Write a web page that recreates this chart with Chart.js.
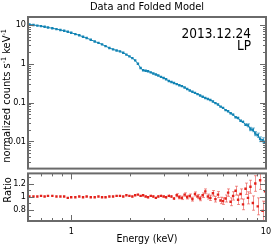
<!DOCTYPE html>
<html>
<head>
<meta charset="utf-8">
<script src="https://cdn.jsdelivr.net/npm/chart.js@4.4.0/dist/chart.umd.min.js"></script>
<style>
body{margin:0;background:#fff;}
#wrap{position:relative;width:273px;height:245px;overflow:hidden;font-family:"DejaVu Sans Condensed","DejaVu Sans",sans-serif;color:#000;}
canvas{position:absolute;left:0;}
#c1{top:0;}
#c2{top:166px;}
.txt{position:absolute;white-space:nowrap;line-height:1;}
.rot{transform:translate(-50%,-50%) rotate(-90deg);}
sup{font-size:65%;vertical-align:0.5em;line-height:0;}
</style>
</head>
<body>
<div id="wrap">
<canvas id="c1" width="273" height="176" style="width:273px;height:176px"></canvas>
<canvas id="c2" width="273" height="79" style="width:273px;height:79px"></canvas>
<div class="txt" id="title" style="left:147px;top:0.5px;font-size:11px;transform:translateX(-50%)">Data and Folded Model</div>
<div class="txt" style="right:22px;top:27px;font-size:13.5px">2013.12.24</div>
<div class="txt" style="right:22px;top:39px;font-size:13.5px">LP</div>
<div class="txt rot" style="left:6px;top:96px;font-size:11px">normalized counts s<sup>-1</sup> keV<sup>-1</sup></div>
<div class="txt rot" style="left:6.5px;top:190px;font-size:11px">Ratio</div>
<div class="txt" style="left:147px;top:233px;font-size:10.5px;transform:translateX(-50%)">Energy (keV)</div>
</div>
<script>
// energies (keV)
var energy = [
  0.61,0.64,0.67,0.70,0.73,0.76,0.80,0.84,0.88,0.92,
  0.96,1.00,1.05,1.10,1.15,1.20,1.26,1.32,1.38,1.44,
  1.50,1.57,1.64,1.71,1.78,1.85,1.92,1.99,2.06,2.13,
  2.20,2.27,2.34,2.41,2.48,2.56,2.64,2.72,2.80,2.89,
  2.98,3.07,3.17,3.27,3.37,3.48,3.59,3.70,3.82,3.94,
  4.06,4.19,4.32,4.45,4.59,4.73,4.88,5.03,5.18,5.34,
  5.50,5.67,5.84,6.02,6.20,6.39,6.58,6.78,6.98,7.19,
  7.40,7.62,7.85,8.08,8.32,8.56,8.81,9.07,9.33,9.60,
  9.88
];
// normalized counts s-1 keV-1
var counts = [
  10.3,10.0,9.6,9.3,9.0,8.6,8.2,7.8,7.4,7.1,
  6.7,6.3,5.8,5.4,4.95,4.6,4.15,3.75,3.45,3.15,
  2.85,2.55,2.35,2.2,2.08,1.92,1.72,1.55,1.40,1.22,
  1.0,0.78,0.68,0.66,0.64,0.60,0.56,0.53,0.50,0.46,
  0.43,0.40,0.36,0.34,0.32,0.30,0.28,0.265,0.245,0.225,
  0.205,0.19,0.178,0.165,0.153,0.142,0.132,0.124,0.117,0.107,
  0.097,0.089,0.079,0.073,0.064,0.060,0.053,0.049,0.042,0.040,
  0.034,0.032,0.027,0.026,0.021,0.020,0.016,0.0145,0.0115,0.0108,
  0.0092
];
// data / model
var ratio = [
  1.00,1.00,1.00,1.01,1.00,1.01,1.01,1.00,1.00,1.00,
  0.98,0.99,0.99,1.00,0.99,1.00,0.99,0.99,1.00,0.99,
  0.99,1.00,1.00,1.01,1.01,1.00,1.02,1.01,1.00,1.02,
  1.03,1.01,1.02,1.00,0.99,1.01,1.00,0.98,1.00,1.01,
  1.00,0.99,1.01,1.00,0.97,1.02,0.99,0.98,1.03,0.99,
  1.01,0.96,1.04,1.00,0.97,1.02,1.08,1.00,0.98,1.05,
  0.96,1.03,0.94,0.93,0.97,1.06,0.92,1.01,1.09,0.95,
  1.04,0.88,1.12,0.98,1.15,0.90,1.20,0.85,1.25,0.78,
  1.08
];
// 1 sigma error on the ratio (same relative error on the counts)
var ratioErr = [
  0.006,0.006,0.006,0.006,0.006,0.006,0.006,0.006,0.006,0.006,
  0.006,0.006,0.006,0.007,0.007,0.007,0.007,0.007,0.008,0.008,
  0.008,0.008,0.009,0.009,0.009,0.010,0.010,0.010,0.011,0.012,
  0.013,0.015,0.016,0.016,0.017,0.017,0.018,0.018,0.019,0.019,
  0.020,0.021,0.022,0.022,0.023,0.024,0.025,0.026,0.027,0.028,
  0.029,0.030,0.031,0.032,0.034,0.035,0.037,0.038,0.040,0.042,
  0.044,0.046,0.049,0.051,0.054,0.057,0.060,0.064,0.068,0.072,
  0.077,0.082,0.087,0.093,0.10,0.11,0.12,0.13,0.14,0.15,
  0.16
];
var countTicks = [0.01, 0.1, 1, 10];
var ratioTicks = [0.8, 1, 1.2];
var energyTicks = [1, 10];

var blu = '#1284b4';
var red = '#e3211a';
var frameCol = '#6a6a6a';
Chart.defaults.font.family = "'DejaVu Sans Condensed','DejaVu Sans',sans-serif";
Chart.defaults.color = '#000';

function logMinors(min, max){
  var out = [];
  for (var d = -4; d <= 2; d++){
    for (var k = 2; k <= 9; k++){
      var v = k * Math.pow(10, d);
      if (v > min && v < max) out.push(v);
    }
  }
  return out;
}

// error bars, frame and inward ticks
var framePlugin = {
  id: 'frame',
  beforeDatasetsDraw: function(chart, args, o){
    var ctx = chart.ctx, xs = chart.scales.x, ys = chart.scales.y, a = chart.chartArea;
    ctx.save();
    ctx.beginPath(); ctx.rect(a.left, a.top, a.right - a.left, a.bottom - a.top); ctx.clip();
    ctx.strokeStyle = o.errColor; ctx.lineWidth = 1;
    for (var i = 0; i < energy.length; i++){
      var v = o.vals[i], e = o.rel ? v * ratioErr[i] : ratioErr[i];
      var x = Math.round(xs.getPixelForValue(energy[i])) + 0.5;
      var y1 = ys.getPixelForValue(v - e), y2 = ys.getPixelForValue(v + e);
      ctx.beginPath();
      ctx.moveTo(x, y1); ctx.lineTo(x, y2);
      if (Math.abs(y1 - y2) > 3){
        ctx.moveTo(x - 1.5, y1); ctx.lineTo(x + 1.5, y1);
        ctx.moveTo(x - 1.5, y2); ctx.lineTo(x + 1.5, y2);
      }
      ctx.stroke();
    }
    ctx.restore();
  },
  afterDraw: function(chart, args, o){
    var ctx = chart.ctx, xs = chart.scales.x, ys = chart.scales.y, a = chart.chartArea;
    ctx.save();
    ctx.strokeStyle = frameCol; ctx.lineWidth = 1;
    function hTicks(vals, len){
      vals.forEach(function(v){
        var y = Math.round(ys.getPixelForValue(v)) + 0.5;
        ctx.beginPath();
        ctx.moveTo(a.left, y); ctx.lineTo(a.left + len, y);
        ctx.moveTo(a.right, y); ctx.lineTo(a.right - len, y);
        ctx.stroke();
      });
    }
    function vTicks(vals, len){
      vals.forEach(function(v){
        var x = Math.round(xs.getPixelForValue(v)) + 0.5;
        ctx.beginPath();
        ctx.moveTo(x, a.top); ctx.lineTo(x, a.top + len);
        ctx.moveTo(x, a.bottom); ctx.lineTo(x, a.bottom - len);
        ctx.stroke();
      });
    }
    hTicks(o.yMajor, 6); hTicks(o.yMinor, 3);
    if (o.xTicks){
      vTicks(energyTicks, 6); vTicks(logMinors(xs.min, xs.max), 3);
    }
    ctx.lineWidth = 2;
    ctx.strokeRect(a.left, a.top, a.right - a.left, a.bottom - a.top);
    ctx.restore();
  }
};

var xMin = 0.6, xMax = 10;

// top panel: chart area 28..266 x 17..171 (padding 3 ends up as 5 because of the tick label)
new Chart(document.getElementById('c1'), {
  type: 'scatter',
  data: {
    datasets: [{
      data: energy.map(function(e, i){ return {x: e, y: counts[i]}; }),
      showLine: true,
      borderColor: blu,
      borderWidth: 1,
      pointStyle: 'rect',
      pointRadius: 1.7,
      pointBackgroundColor: blu,
      pointBorderWidth: 0
    }]
  },
  options: {
    responsive: false,
    animation: false,
    events: [],
    layout: {padding: {left: 0, right: 7, top: 17, bottom: 3}},
    plugins: {
      legend: {display: false},
      tooltip: {enabled: false},
      frame: {vals: counts, rel: true, errColor: 'rgba(18,132,180,0.6)',
              yMajor: countTicks, yMinor: logMinors(0.002, 16), xTicks: false}
    },
    scales: {
      x: {type: 'logarithmic', min: xMin, max: xMax, display: false},
      y: {
        type: 'logarithmic', min: 0.002, max: 16,
        grid: {display: false, drawTicks: false},
        border: {display: false},
        afterFit: function(s){ s.width = 28; },
        afterBuildTicks: function(s){ s.ticks = countTicks.map(function(v){ return {value: v}; }); },
        ticks: {autoSkip: false, padding: 2, font: {size: 9}, callback: function(v){ return String(v); }}
      }
    }
  },
  plugins: [framePlugin]
});

// ratio panel: chart area 28..266 x 171..221
new Chart(document.getElementById('c2'), {
  type: 'scatter',
  data: {
    datasets: [{
      data: energy.map(function(e, i){ return {x: e, y: ratio[i]}; }),
      pointStyle: 'rect',
      pointRadius: 1.7,
      pointBackgroundColor: red,
      pointBorderWidth: 0
    }]
  },
  options: {
    responsive: false,
    animation: false,
    events: [],
    layout: {padding: {left: 0, right: 7, top: 3, bottom: 0}},
    plugins: {
      legend: {display: false},
      tooltip: {enabled: false},
      frame: {vals: ratio, rel: false, errColor: 'rgba(232,60,55,0.55)',
              yMajor: ratioTicks, yMinor: [0.7, 0.9, 1.1, 1.3], xTicks: true}
    },
    scales: {
      x: {
        type: 'logarithmic', min: xMin, max: xMax,
        grid: {display: false, drawTicks: false},
        border: {display: false},
        afterFit: function(s){ s.height = 24; s.paddingLeft = 0; s.paddingRight = 0; },
        afterBuildTicks: function(s){ s.ticks = energyTicks.map(function(v){ return {value: v}; }); },
        ticks: {autoSkip: false, maxRotation: 0, padding: 5, font: {size: 9}, callback: function(v){ return String(v); }}
      },
      y: {
        type: 'linear', min: 0.625, max: 1.355,
        grid: {display: false, drawTicks: false},
        border: {display: false},
        afterFit: function(s){ s.width = 28; },
        afterBuildTicks: function(s){ s.ticks = ratioTicks.map(function(v){ return {value: v}; }); },
        ticks: {autoSkip: false, padding: 2, font: {size: 9}, callback: function(v){ return String(v); }}
      }
    }
  },
  plugins: [framePlugin]
});
</script>
</body>
</html>
